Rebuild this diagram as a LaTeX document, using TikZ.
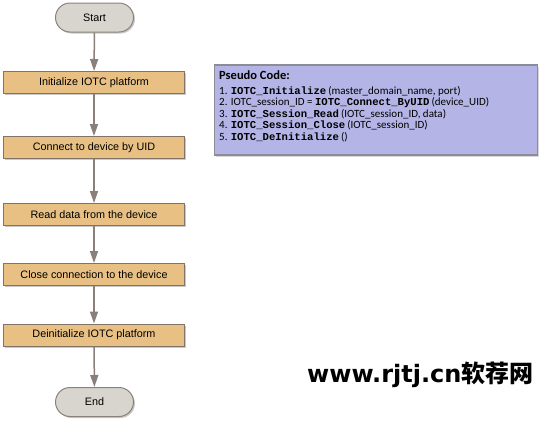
\documentclass[tikz,border=0pt]{standalone}
\usepackage{fontspec}
\setmainfont{Liberation Sans}
\newfontfamily\calib{Carlito}
\newfontfamily\cmono{Liberation Mono}
\newfontfamily\dvs{DejaVu Sans}
\newfontfamily\cjk{Noto Sans CJK SC}
\usetikzlibrary{arrows.meta,shadows}
\definecolor{boxfill}{RGB}{232,192,132}
\definecolor{boxline}{RGB}{130,115,105}
\definecolor{termfill}{RGB}{216,212,206}
\definecolor{termline}{RGB}{140,130,124}
\definecolor{arrowc}{RGB}{138,127,122}
\definecolor{pfill}{RGB}{180,180,230}
\definecolor{pline}{RGB}{140,140,150}
\newcommand\fn[1]{{\cmono\bfseries\fontsize{10.6}{12}\selectfont #1}\hspace{2pt}}
\begin{document}
\begin{tikzpicture}[x=1pt,y=-1pt,
  stepbox/.style={draw=boxline,fill=boxfill,line width=1pt,minimum width=181pt,minimum height=22pt,inner sep=0pt,
    font=\fontsize{10.8}{12}\selectfont,
    drop shadow={shadow xshift=1.5pt,shadow yshift=-1.5pt,fill=black!35,opacity=0.6}},
  term/.style={draw=termline,fill=termfill,line width=1pt,minimum width=78pt,minimum height=29pt,inner sep=0pt,
    rounded corners=14.5pt,font=\fontsize{10.8}{12}\selectfont,
    drop shadow={shadow xshift=1.5pt,shadow yshift=-1.5pt,fill=black!35,opacity=0.6}},
  flow/.style={draw=arrowc,line width=1.5pt,-{Triangle[width=8pt,length=12pt]}},
  code/.style={anchor=west,inner sep=0pt,font=\calib\fontsize{11}{13}\selectfont}
]
\useasboundingbox (0,0) rectangle (542,421);
\fill[white] (0,0) rectangle (542,421);

\node[term] (start) at (94.5,17.5) {Start};
\node[stepbox] (s1) at (94,82.5) {Initialize IOTC platform};
\node[stepbox] (s2) at (94,147.5) {Connect to device by UID};
\node[stepbox] (s3) at (94,214.5) {Read data from the device};
\node[stepbox] (s4) at (94,274.5) {Close connection to the device};
\node[stepbox] (s5) at (94,335) {Deinitialize IOTC platform};
\node[term] (end) at (94.5,402) {End};

\draw[flow] (start) -- (s1);
\draw[flow] (s1) -- (s2);
\draw[flow] (s2) -- (s3);
\draw[flow] (s3) -- (s4);
\draw[flow] (s4) -- (s5);
\draw[flow] (s5) -- (end);

\node[draw=pline,fill=pfill,line width=1.2pt,minimum width=323pt,minimum height=90pt,inner sep=0pt,
  drop shadow={shadow xshift=1.5pt,shadow yshift=-1.5pt,fill=black!25,opacity=0.6}] (pc) at (376,110) {};
\node[code,font=\calib\bfseries\fontsize{12.5}{14}\selectfont] (ph) at (219,75.5) {Pseudo Code:};
\node[code] (l1) at (219,91) {1. \fn{IOTC\_Initialize}(master\_domain\_name, port)};
\node[code] (l2) at (219,102.5) {2. IOTC\_session\_ID = \fn{IOTC\_Connect\_ByUID}(device\_UID)};
\node[code] (l3) at (219,114) {3. \fn{IOTC\_Session\_Read}(IOTC\_session\_ID, data)};
\node[code] (l4) at (219,125.5) {4. \fn{IOTC\_Session\_Close}(IOTC\_session\_ID)};
\node[code] (l5) at (219,137) {5. \fn{IOTC\_DeInitialize}()};

\node[anchor=west,inner sep=0pt] (wm) at (307,375) {\fontsize{24}{28}\selectfont\dvs\bfseries www.rjtj.cn\cjk\bfseries 软荐网};
\end{tikzpicture}
\end{document}
